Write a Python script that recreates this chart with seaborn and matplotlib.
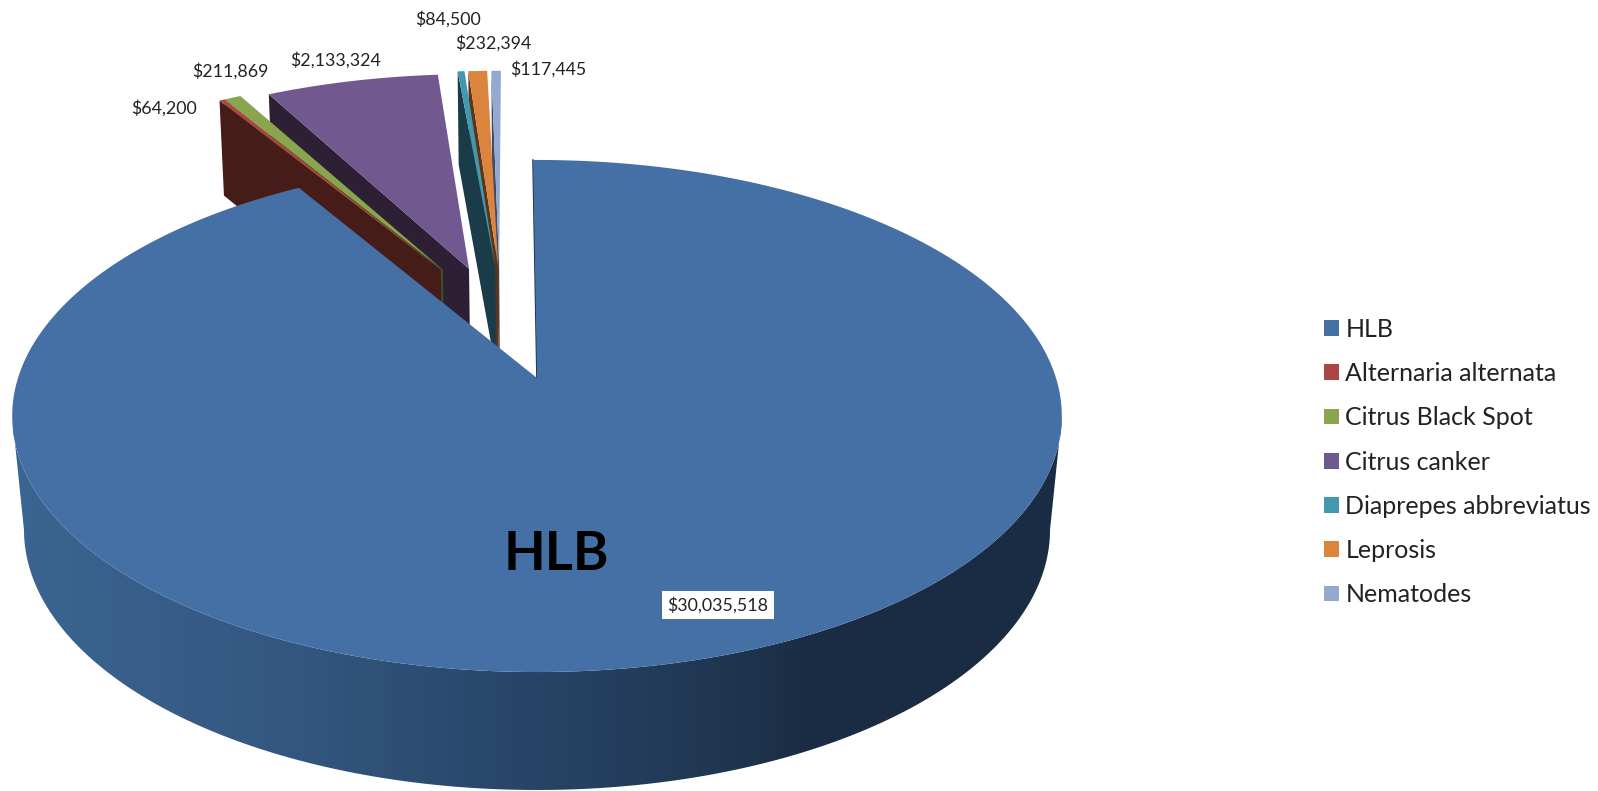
import numpy as np
import pandas as pd
import seaborn as sns
import matplotlib.pyplot as plt
from matplotlib.colors import LinearSegmentedColormap
from matplotlib.patches import Patch, Polygon

sns.set_theme(style="white")
plt.rcParams['font.family'] = ['Lato', 'DejaVu Sans']

# chart data
pests = ['HLB', 'Alternaria alternata', 'Citrus Black Spot', 'Citrus canker',
         'Diaprepes abbreviatus', 'Leprosis', 'Nematodes']
costs = [30035518, 64200, 211869, 2133324, 84500, 232394, 117445]
cost_labels = ['$30,035,518', '$64,200', '$211,869', '$2,133,324', '$84,500', '$232,394', '$117,445']
top_colors = ['#4570A6', '#AA4643', '#89A54E', '#71588F', '#4198AF', '#DB843D', '#93A9CF']
side_colors = ['#1A2C43', '#461C18', '#3F5220', '#2D2035', '#1A3C48', '#5C3518', '#3E4A65']

# exploded slice positions on the pie plane (1 = radius), apex and rim apart
apex_u = [0, -0.198, -0.194, -0.140, -0.086, -0.080, -0.078]
apex_v = [0, 0.462, 0.462, 0.466, 0.475, 0.475, 0.475]
rim_u = [0, -0.215, -0.215, -0.15, -0.104, -0.095, -0.085]
rim_v = [0, 0.47, 0.47, 0.48, 0.50, 0.50, 0.50]

# where the value labels sit, pixels
label_x = [718, 164, 230, 336, 448, 493, 548]
label_y = [605, 108, 71, 60, 19, 43, 69]

hlb_lean = -0.5  # open edge of the HLB slice leans a bit left

df = pd.DataFrame({'pest': pests, 'cost': costs})
df['sweep'] = 360 * df['cost'] / df['cost'].sum()
df['end'] = df['sweep'].cumsum()
df['start'] = df['end'] - df['sweep']


# perspective of the top face, the tilt makes the far side look smaller
def top_face(u, v):
    w = 1 + 0.1484 * v
    return 537 + 519 * u / w, 378 - 250.4 * v / w


# bottom of the exploded slices
def slice_floor(u, v):
    w = 1 + 0.14 * v
    return 537 + 507 * u / w, 487 - 260.6 * v / w


# bottom rim of the big slice
def hlb_floor(u, v):
    return 537 + 513 * u, 530 - 260 * v


def rim(deg):
    rad = np.radians(deg)
    return np.sin(rad), np.cos(rad)


fig = plt.figure(figsize=(15.98, 7.91), dpi=100)
ax = fig.add_axes([0, 0, 1, 1])

# small slices first, right to left, the big one goes over them
for i in range(len(df) - 1, 0, -1):
    row = df.iloc[i]
    ru, rv = rim(row['start'])
    p1 = top_face(apex_u[i], apex_v[i])
    p2 = top_face(rim_u[i] + ru, rim_v[i] + rv)
    p3 = slice_floor(rim_u[i] + ru, rim_v[i] + rv)
    p4 = slice_floor(apex_u[i], apex_v[i])
    ax.add_patch(Polygon([p1, p2, p3, p4], closed=True, fc=side_colors[i], ec='none', zorder=2 + 0.1 * (7 - i)))

    ang = np.linspace(row['start'], row['end'], 20)
    au, av = rim(ang)
    x, y = top_face(np.r_[apex_u[i], rim_u[i] + au], np.r_[apex_v[i], rim_v[i] + av])
    ax.fill(x, y, color=top_colors[i], lw=0, zorder=2 + 0.1 * (7 - i) + 0.01)

# side wall of the HLB slice, dark to the right
ang = np.linspace(98.5, 261.5, 200)
u, v = rim(ang)
tx, ty = top_face(u, v)
ang2 = np.linspace(270, 90, 200)
u2, v2 = rim(ang2)
bx, by = hlb_floor(u2, v2)
wall = Polygon(np.c_[np.r_[tx, bx], np.r_[ty, by]], closed=True, fc='none', ec='none', zorder=4)
ax.add_patch(wall)
wall_cmap = LinearSegmentedColormap.from_list(
    'wall', [(0, '#3B6592'), (0.28, '#33567F'), (0.42, '#2B4A6F'), (0.68, '#1F3650'), (0.76, '#1A2C43'), (1, '#1A2C43')])
grad = ax.imshow(np.linspace(0, 1, 256).reshape(1, -1), extent=[13, 1063, 791, 300], aspect='auto',
                 cmap=wall_cmap, zorder=4)
grad.set_clip_path(wall)

# thin dark edge on the open side of the big slice
lu, lv = rim(hlb_lean)
ex, ey = top_face(np.array([0, lu]), np.array([0, lv]))
ax.plot(ex, ey, color='#1A2C43', lw=1.2, zorder=4.5)

# HLB top
ang = np.linspace(df.loc[0, 'start'] + hlb_lean, df.loc[0, 'end'], 400)
au, av = rim(ang)
x, y = top_face(np.r_[0, au], np.r_[0, av])
ax.fill(x, y, color=top_colors[0], lw=0, zorder=5)

# value labels
for i, txt in enumerate(cost_labels):
    if i == 0:
        ax.text(label_x[i], label_y[i], txt, fontsize=12.8, color='#222222', ha='center', va='center', zorder=7,
                bbox=dict(fc='white', ec='none', boxstyle='square,pad=0.32'))
    else:
        ax.text(label_x[i], label_y[i], txt, fontsize=12.8, color='#222222', ha='center', va='center', zorder=7)

ax.text(556, 555, 'HLB', fontsize=39, fontweight='bold', color='black', ha='center', va='center', zorder=7)

handles = [Patch(fc=c, ec='none', label=p) for p, c in zip(pests, top_colors)]
ax.legend(handles=handles, loc='center left', bbox_to_anchor=(1301 / 1598, 1 - 462 / 791), frameon=False,
          fontsize=18, handlelength=0.6, handleheight=0.6, handletextpad=0.27, labelspacing=0.85,
          labelcolor='#222222')

ax.set_xlim(0, 1598)
ax.set_ylim(791, 0)
ax.set_axis_off()

plt.savefig('out.png', dpi=100)
